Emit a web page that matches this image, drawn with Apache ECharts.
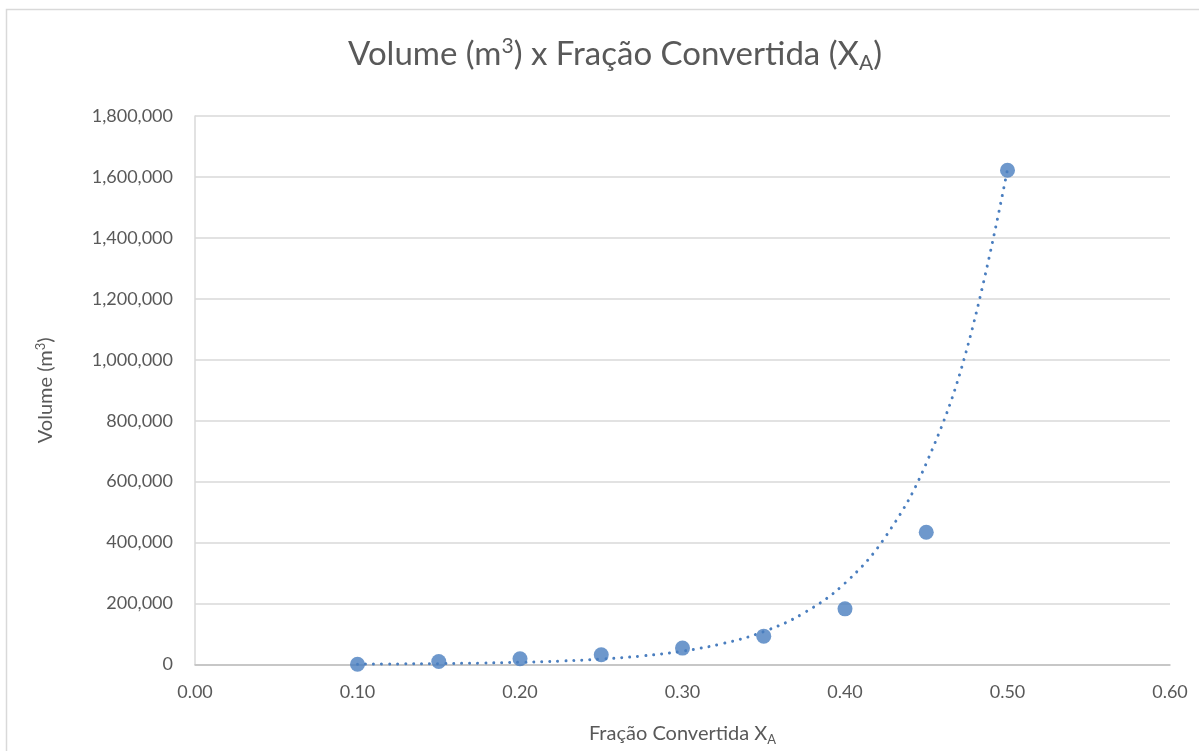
<!DOCTYPE html>
<html>
<head>
<meta charset="utf-8">
<script src="https://cdn.jsdelivr.net/npm/echarts@6/dist/echarts.min.js"></script>
<style>
html,body{margin:0;padding:0;background:#fff;overflow:hidden;}
#chart{width:1199px;height:751px;}
</style>
</head>
<body>
<div id="chart"></div>
<script>
// Data points (Fração Convertida X_A, Volume m³)
const xValues = [0.10, 0.15, 0.20, 0.25, 0.30, 0.35, 0.40, 0.45, 0.50];
const volumes = [800, 9800, 18700, 31800, 53800, 93000, 182600, 434000, 1622000];

// Exponential trendline
const trendX = [0.100, 0.125, 0.150, 0.175, 0.200, 0.225, 0.250, 0.275, 0.300, 0.325, 0.350, 0.375, 0.400, 0.425, 0.450, 0.475, 0.500];
const trendY = [1200, 1900, 2900, 4600, 7200, 11300, 17800, 28000, 44000, 69000, 108000, 170000, 267000, 420000, 660000, 1035000, 1625000];

// Axis settings
const xTicks = { min: 0, max: 0.6, interval: 0.1 };
const yTicks = { min: 0, max: 1800000, interval: 200000 };

const FONT = 'Lato, "Open Sans", "Noto Sans", sans-serif';
const TXT = '#595959';
const BLUE = '#4A7EBF';

const chart = echarts.init(document.getElementById('chart'));
chart.setOption({
  backgroundColor: '#fff',
  animation: false,
  graphic: [{
    type: 'rect',
    shape: { x: 6.5, y: 9.5, width: 1400, height: 1000 },
    style: { fill: 'none', stroke: '#D9D9D9', lineWidth: 1.5 },
    silent: true
  }],
  title: {
    text: '{a|Volume (m}{sup|3}{a|) x Fração Convertida (X}{sub|A}{a|)}',
    left: 610,
    textAlign: 'center',
    top: 28,
    textStyle: {
      fontWeight: 'normal',
      rich: {
        a: { fontFamily: FONT, fontSize: 33, fontWeight: 'normal', color: TXT, lineHeight: 42, verticalAlign: 'middle' },
        sup: { fontFamily: FONT, fontSize: 21, fontWeight: 'normal', color: TXT, lineHeight: 42, verticalAlign: 'middle', padding: [0, 0, 15, 0] },
        sub: { fontFamily: FONT, fontSize: 21, fontWeight: 'normal', color: TXT, lineHeight: 42, verticalAlign: 'middle', padding: [19, 0, 0, 0] }
      }
    }
  },
  grid: { left: 195, right: 29, top: 116, bottom: 77, containLabel: false },
  xAxis: {
    type: 'value',
    min: xTicks.min, max: xTicks.max, interval: xTicks.interval,
    name: '{a|Fração Convertida X}{sub|A}',
    nameLocation: 'middle',
    nameGap: 56,
    nameTextStyle: {
      rich: {
        a: { fontFamily: FONT, fontSize: 20, color: TXT, lineHeight: 26 },
        sub: { fontFamily: FONT, fontSize: 13, color: TXT, lineHeight: 26, padding: [12, 0, 0, 0] }
      }
    },
    axisLine: { show: true, onZero: false, lineStyle: { color: '#BFBFBF', width: 1.5 } },
    axisTick: { show: false },
    splitLine: { show: false },
    axisLabel: {
      fontFamily: FONT, fontSize: 18, color: TXT, margin: 19,
      formatter: v => v.toFixed(2)
    }
  },
  yAxis: {
    type: 'value',
    min: yTicks.min, max: yTicks.max, interval: yTicks.interval,
    name: '{a|Volume (m}{sup|3}{a|)}',
    nameLocation: 'middle',
    nameRotate: 90,
    nameGap: 136,
    nameTextStyle: {
      rich: {
        a: { fontFamily: FONT, fontSize: 20, color: TXT, lineHeight: 26 },
        sup: { fontFamily: FONT, fontSize: 13, color: TXT, lineHeight: 26, padding: [0, 0, 10, 0] }
      }
    },
    axisLine: { show: true, lineStyle: { color: '#D9D9D9', width: 1.5 } },
    axisTick: { show: false },
    splitLine: { show: true, lineStyle: { color: '#D9D9D9', width: 1.5 } },
    axisLabel: {
      fontFamily: FONT, fontSize: 18, color: TXT, margin: 22,
      formatter: v => v.toLocaleString('en-US')
    }
  },
  series: [
    {
      type: 'line',
      data: trendX.map((x, i) => [x, trendY[i]]),
      smooth: 0.4,
      showSymbol: false,
      symbol: 'none',
      lineStyle: { color: BLUE, width: 3, type: [0.01, 8], cap: 'round' },
      z: 2,
      silent: true
    },
    {
      type: 'scatter',
      data: xValues.map((x, i) => [x, volumes[i]]),
      symbol: 'circle',
      symbolSize: 15,
      itemStyle: { color: BLUE },
      z: 3
    }
  ]
});
</script>
</body>
</html>
